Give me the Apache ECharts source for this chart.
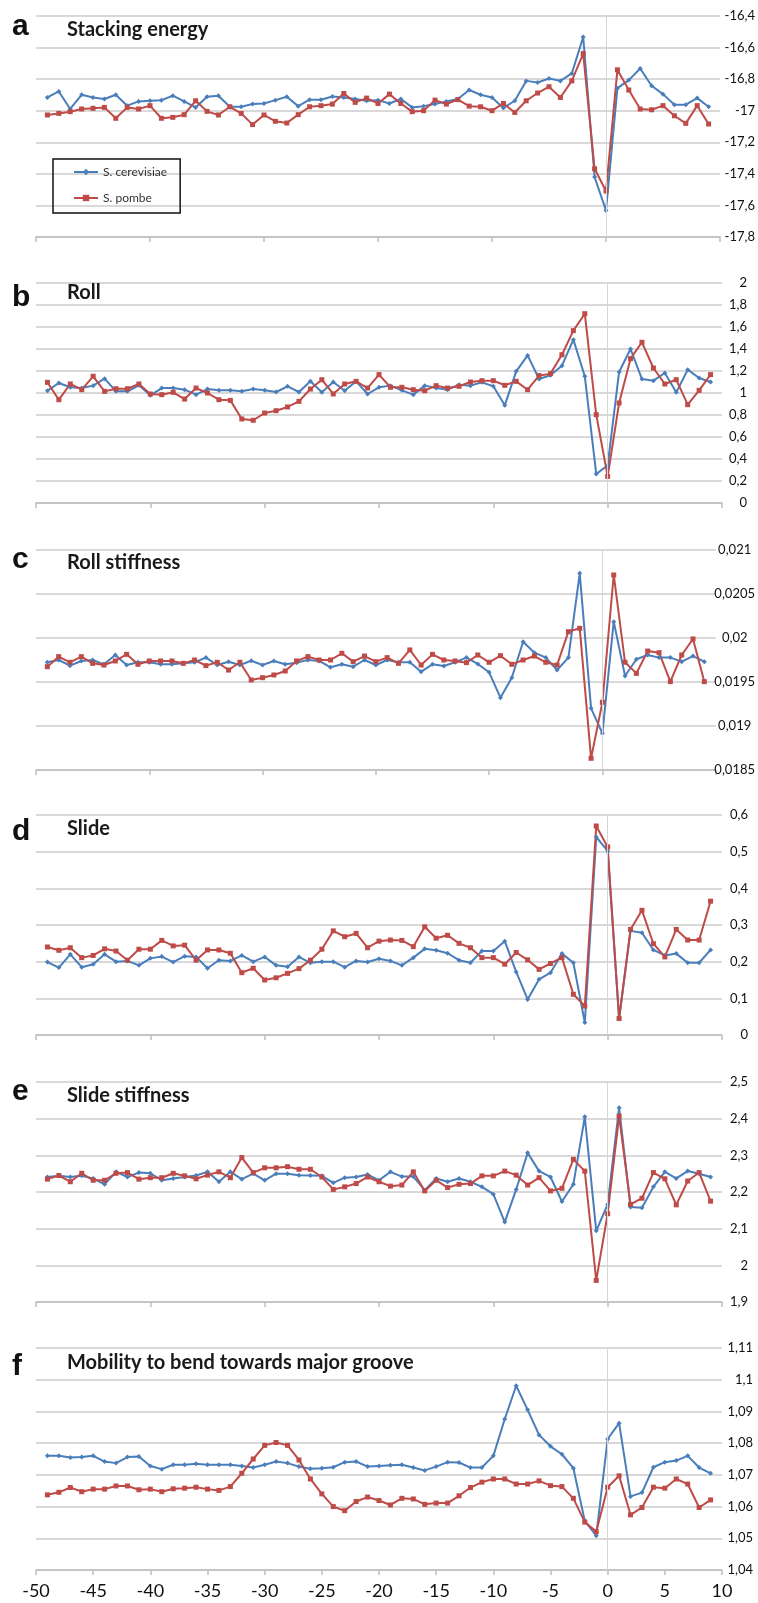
<!DOCTYPE html>
<html><head><meta charset="utf-8">
<script src="https://cdn.jsdelivr.net/npm/echarts@6/dist/echarts.min.js"></script>
<style>html,body{margin:0;padding:0;background:#fff}#c{width:758px;height:1603px}</style>
</head><body><div id="c"></div>
<script>
// ---------- DATA ----------
const positions = [-49,-48,-47,-46,-45,-44,-43,-42,-41,-40,-39,-38,-37,-36,-35,-34,-33,-32,-31,-30,-29,-28,-27,-26,-25,-24,-23,-22,-21,-20,-19,-18,-17,-16,-15,-14,-13,-12,-11,-10,-9,-8,-7,-6,-5,-4,-3,-2,-1,0,1,2,3,4,5,6,7,8,9];
const seriesNames = ['S. cerevisiae', 'S. pombe'];
const panelLetters = ['a', 'b', 'c', 'd', 'e', 'f'];
const panelTitles = ['Stacking energy', 'Roll', 'Roll stiffness', 'Slide', 'Slide stiffness', 'Mobility to bend towards major groove'];
const yMins = [-17.8, 0, 0.0185, 0, 1.9, 1.04];
const yMaxs = [-16.4, 2, 0.021, 0.6, 2.5, 1.11];
const yIntervals = [0.2, 0.2, 0.0005, 0.1, 0.1, 0.01];

const stackingCer = [-16.916,-16.878,-16.989,-16.899,-16.916,-16.926,-16.899,-16.968,-16.941,-16.937,-16.933,-16.905,-16.941,-16.979,-16.912,-16.905,-16.975,-16.975,-16.958,-16.954,-16.933,-16.912,-16.971,-16.93,-16.93,-16.91,-16.916,-16.926,-16.937,-16.933,-16.954,
  -16.926,-16.979,-16.971,-16.958,-16.941,-16.926,-16.869,-16.899,-16.916,-16.983,-16.937,-16.811,-16.821,-16.796,-16.811,-16.764,-16.533,-17.42,-17.632,-16.857,-16.806,-16.733,-16.842,-16.895,-16.962,-16.962,-16.92,-16.975];
const stackingPom = [-17.027,-17.017,-17.006,-16.989,-16.985,-16.979,-17.048,-16.979,-16.989,-16.968,-17.048,-17.042,-17.025,-16.937,-17.004,-17.027,-16.975,-17.017,-17.088,-17.027,-17.067,-17.078,-17.025,-16.975,-16.968,-16.958,-16.891,-16.947,-16.92,-16.954,-16.895,
  -16.954,-17.006,-17.0,-16.933,-16.958,-16.93,-16.971,-16.975,-17.0,-16.954,-17.011,-16.937,-16.888,-16.848,-16.916,-16.811,-16.638,-17.368,-17.509,-16.741,-16.869,-16.989,-16.994,-16.968,-17.032,-17.08,-16.968,-17.084];

const rollCer = [1.021,1.091,1.052,1.045,1.067,1.130,1.015,1.015,1.070,0.979,1.045,1.045,1.030,0.985,1.036,1.024,1.024,1.015,1.036,1.024,1.009,1.061,1.009,1.106,1.006,1.1,1.021,1.106,0.991,1.052,1.067,
  1.024,0.985,1.067,1.045,1.030,1.076,1.067,1.097,1.061,0.888,1.197,1.342,1.127,1.161,1.248,1.485,1.152,0.264,0.342,1.191,1.4,1.127,1.112,1.182,1.006,1.212,1.136,1.1];
const rollPom = [1.097,0.939,1.082,1.030,1.152,1.015,1.039,1.039,1.082,0.991,0.985,1.006,0.945,1.045,1.0,0.939,0.933,0.764,0.752,0.818,0.839,0.873,0.924,1.036,1.121,0.991,1.082,1.106,1.045,1.167,1.052,
  1.052,1.030,1.021,1.067,1.045,1.061,1.1,1.112,1.112,1.07,1.106,1.03,1.158,1.176,1.348,1.567,1.721,0.803,0.242,0.909,1.312,1.461,1.227,1.082,1.121,0.894,1.024,1.167];

const rollStiffCer = [0.019724,0.01975,0.019686,0.019739,0.01975,0.019701,0.019807,0.019693,0.019724,0.019724,0.019701,0.019701,0.019712,0.019724,0.019777,0.019693,0.019731,0.019693,0.019742,0.019693,0.019739,0.019701,0.01972,0.01975,0.019739,0.019667,0.019701,0.019674,0.01975,0.019693,0.01975,
  0.019724,0.019724,0.019617,0.019701,0.019682,0.019724,0.019777,0.019705,0.01961,0.019322,0.019549,0.019958,0.019833,0.019777,0.019636,0.019777,0.020735,0.019201,0.018917,0.020186,0.019568,0.019758,0.019807,0.019777,0.019777,0.019731,0.019795,0.019731];
const rollStiffPom = [0.019674,0.019788,0.019724,0.019788,0.019712,0.019693,0.019739,0.019814,0.019701,0.019739,0.019739,0.019739,0.019712,0.01975,0.019686,0.019724,0.019636,0.019724,0.019523,0.019549,0.01958,0.019625,0.019739,0.019788,0.01975,0.01975,0.019826,0.019731,0.019795,0.019731,0.019777,
  0.019712,0.019864,0.019693,0.019814,0.01975,0.019739,0.01972,0.019807,0.019724,0.019799,0.019701,0.01975,0.019795,0.019724,0.019693,0.020072,0.02011,0.018633,0.019269,0.020716,0.019724,0.019598,0.019852,0.019833,0.019504,0.019807,0.019989,0.019504];

const slideCer = [0.199,0.184,0.220,0.185,0.193,0.220,0.200,0.202,0.190,0.209,0.214,0.199,0.215,0.213,0.182,0.204,0.202,0.217,0.200,0.213,0.190,0.186,0.213,0.197,0.200,0.200,0.185,0.202,0.199,0.208,0.202,
  0.190,0.211,0.235,0.231,0.223,0.204,0.197,0.229,0.229,0.256,0.172,0.097,0.152,0.170,0.222,0.197,0.034,0.540,0.502,0.045,0.284,0.279,0.232,0.217,0.222,0.197,0.197,0.232];
const slidePom = [0.240,0.231,0.238,0.211,0.217,0.235,0.229,0.204,0.234,0.234,0.258,0.243,0.245,0.204,0.232,0.232,0.223,0.170,0.182,0.150,0.156,0.168,0.181,0.204,0.234,0.284,0.268,0.277,0.238,0.256,0.259,
  0.258,0.241,0.295,0.264,0.272,0.250,0.238,0.211,0.211,0.193,0.225,0.205,0.179,0.195,0.211,0.111,0.079,0.570,0.513,0.045,0.288,0.340,0.249,0.213,0.288,0.259,0.259,0.365];

const slideStiffCer = [2.241,2.244,2.241,2.244,2.237,2.221,2.255,2.241,2.253,2.251,2.232,2.237,2.241,2.245,2.255,2.228,2.255,2.235,2.250,2.232,2.250,2.250,2.246,2.245,2.244,2.225,2.239,2.241,2.248,2.232,2.255,
  2.242,2.242,2.205,2.237,2.228,2.237,2.228,2.214,2.194,2.118,2.207,2.307,2.257,2.241,2.174,2.221,2.405,2.094,2.166,2.430,2.159,2.157,2.214,2.255,2.237,2.257,2.25,2.241];
const slideStiffPom = [2.235,2.245,2.228,2.251,2.232,2.232,2.251,2.253,2.235,2.239,2.239,2.251,2.244,2.236,2.246,2.255,2.239,2.294,2.253,2.266,2.266,2.269,2.262,2.262,2.241,2.207,2.214,2.223,2.241,2.228,2.216,
  2.219,2.255,2.203,2.232,2.212,2.221,2.223,2.244,2.244,2.257,2.246,2.219,2.239,2.203,2.21,2.289,2.257,1.959,2.141,2.407,2.166,2.183,2.253,2.236,2.165,2.23,2.253,2.175];

const mobilityCer = [1.0760,1.0760,1.0755,1.0756,1.0760,1.0742,1.0737,1.0756,1.0758,1.0728,1.0718,1.0732,1.0732,1.0735,1.0732,1.0732,1.0732,1.0728,1.0723,1.0732,1.0742,1.0737,1.0726,1.0719,1.0721,1.0724,1.0740,1.0742,1.0726,1.0728,1.0730,
  1.0732,1.0723,1.0714,1.0726,1.0740,1.0739,1.0723,1.0723,1.0760,1.0876,1.0981,1.0905,1.0826,1.0790,1.0765,1.0721,1.0555,1.0508,1.0813,1.0863,1.0632,1.0644,1.0724,1.0740,1.0745,1.0760,1.0723,1.0705];
const mobilityPom = [1.0637,1.0645,1.0660,1.0647,1.0655,1.0655,1.0665,1.0665,1.0653,1.0655,1.0647,1.0656,1.0658,1.0661,1.0655,1.0651,1.0663,1.0705,1.0750,1.0793,1.0802,1.0793,1.0747,1.0687,1.0640,1.0600,1.0587,1.0616,1.0630,1.0619,1.0605,
  1.0626,1.0624,1.0607,1.0611,1.0611,1.0634,1.0660,1.0677,1.0687,1.0687,1.0671,1.0671,1.0681,1.0666,1.0663,1.0626,1.0551,1.0521,1.0661,1.0697,1.0574,1.0597,1.0661,1.0658,1.0687,1.0671,1.0597,1.0621];

const cerevisiaeSets = [stackingCer, rollCer, rollStiffCer, slideCer, slideStiffCer, mobilityCer];
const pombeSets = [stackingPom, rollPom, rollStiffPom, slidePom, slideStiffPom, mobilityPom];

// ---------- LAYOUT ----------
const gridTops = [16, 283, 550, 815, 1082, 1348];
const gridHeights = [221, 220, 220, 220, 220, 222];
const labelAlign = ['right', 'right', 'center', 'right', 'right', 'right'];
const labelMargin = [35, 25, 19, 26, 26, 31];
const letterTops = [11.6, 282.6, 544.6, 816.6, 1076.6, 1351.6];
const titleTops = [19.3, 282.3, 552.3, 818.3, 1085.3, 1352.3];
const BLUE = '#4a7ebb', RED = '#be4b48';

const fmt = v => String(Number(v.toFixed(4))).replace('.', ',');

const grids = [], xAxes = [], yAxes = [], series = [], titles = [];
for (let i = 0; i < 6; i++) {
  grids.push({ left: 36, right: 36, top: gridTops[i], height: gridHeights[i] });
  xAxes.push({
    type: 'value', gridIndex: i, min: -50, max: 10, interval: i === 5 ? 5 : 10,
    axisLine: { show: true, onZero: false, lineStyle: { color: '#bfbfbf', width: 1.5 } },
    axisTick: { show: true, length: 5, lineStyle: { color: '#bfbfbf', width: 1.5 } },
    axisLabel: { show: i === 5, margin: 12, fontSize: 18, color: '#111', fontFamily: 'Lato',
      formatter: v => String(v) },
    splitLine: { show: false }
  });
  yAxes.push({
    type: 'value', gridIndex: i, position: 'right', min: yMins[i], max: yMaxs[i], interval: yIntervals[i],
    axisLine: { show: false }, axisTick: { show: false },
    axisLabel: { margin: labelMargin[i], align: labelAlign[i], fontSize: 13, color: '#111', fontFamily: 'Lato', formatter: fmt },
    splitLine: { show: true, lineStyle: { color: '#cdcdcd', width: 1.5 } }
  });
  series.push({
    name: seriesNames[0], type: 'line', xAxisIndex: i, yAxisIndex: i,
    data: positions.map((p, k) => [p, cerevisiaeSets[i][k]]),
    symbol: 'diamond', symbolSize: 5, showSymbol: true,
    lineStyle: { color: BLUE, width: 2 }, itemStyle: { color: BLUE },
    markLine: { silent: true, symbol: 'none', label: { show: false },
      lineStyle: { color: '#d6d6d6', width: 1, type: 'solid' }, data: [{ xAxis: 0 }] }
  });
  series.push({
    name: seriesNames[1], type: 'line', xAxisIndex: i, yAxisIndex: i,
    data: positions.map((p, k) => [p, pombeSets[i][k]]),
    symbol: 'rect', symbolSize: 5, showSymbol: true,
    lineStyle: { color: RED, width: 2 }, itemStyle: { color: RED }
  });
  titles.push({ text: panelLetters[i], left: 12, top: letterTops[i], padding: 0,
    textStyle: { fontSize: 30, lineHeight: 30, fontWeight: 'bold', fontFamily: 'Liberation Sans', color: '#111' } });
  titles.push({ text: panelTitles[i], left: 67, top: titleTops[i], padding: 0,
    textStyle: { fontSize: 20, lineHeight: 20, fontWeight: 'bold', fontFamily: 'Lato', color: '#1a1a1a' } });
}

const chart = echarts.init(document.getElementById('c'), null, { renderer: 'canvas' });
chart.setOption({
  animation: false,
  backgroundColor: '#fff',
  title: titles,
  legend: {
    data: seriesNames, orient: 'vertical', left: 53, top: 159,
    padding: [7, 13, 9, 20], itemGap: 14, itemWidth: 24, itemHeight: 8,
    borderColor: '#111', borderWidth: 1.5,
    textStyle: { fontSize: 12, color: '#333', fontFamily: 'Lato' }
  },
  grid: grids, xAxis: xAxes, yAxis: yAxes, series: series
});
</script></body></html>
